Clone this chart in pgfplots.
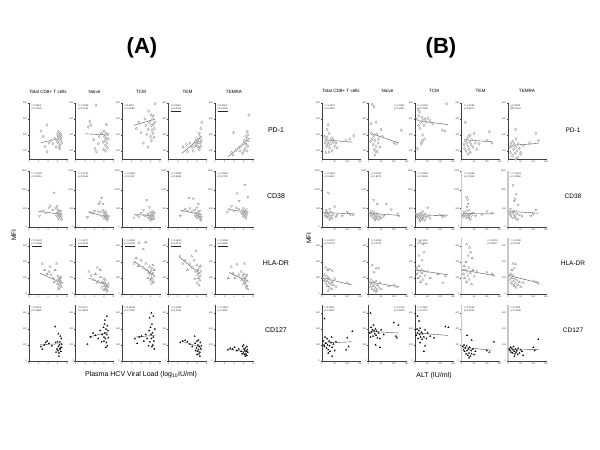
\documentclass[border=0pt]{standalone}
\usepackage{fontspec}
\setmainfont{Liberation Sans}
\usepackage{pgfplots}
\pgfplotsset{compat=1.18}
\pgfplotsset{
  sub/.style={scale only axis, width=38pt, height=56pt,
    axis lines=left, axis line style={-, line width=0.35pt, draw=black!75},
    tick style={line width=0.3pt, draw=black!75}, major tick length=1.2pt, tick align=outside,
    ticklabel style={font=\fontsize{2.3}{2.6}\selectfont, inner sep=0.6pt, text=black!80},
    /pgf/number format/assume math mode=true, /pgf/number format/1000 sep={},
    clip=false},
  rowPD/.style={ymin=100,ymax=800,ytick={200,400,600,800}},
  rowCD/.style={ymin=0,ymax=1500,ytick={0,500,1000,1500}},
  rowHL/.style={ymin=0,ymax=700,ytick={0,200,400,600}},
  rowCS/.style={ymin=0,ymax=700,ytick={0,200,400,600}},
  xA/.style={xmin=0,xmax=8,xtick={0,2,4,6,8}},
  xB/.style={xmin=0,xmax=150,xtick={0,50,100,150}},
  gy/.style={y axis line style={line width=1.4pt, draw=black!22}},
  mPD/.style={mark=diamond*, mark size=1.4pt, mark options={fill=white, draw=black!45, line width=0.3pt}},
  mCD/.style={mark=triangle*, mark size=1.3pt, mark options={fill=white, draw=black!45, line width=0.3pt, rotate=180}},
  mHL/.style={mark=triangle*, mark size=1.3pt, mark options={fill=white, draw=black!45, line width=0.3pt}},
  mCS/.style={mark=triangle*, mark size=0.9pt, mark options={fill=black, draw=black, line width=0.2pt}},
  fitline/.style={no marks, draw=black!70, line width=0.4pt},
}
\tikzset{ann/.style={font=\fontsize{2.4}{2.9}\selectfont, align=left, inner sep=0.5pt, text=black!85},
  TL/.style={at={(rel axis cs:0.05,0.98)},anchor=north west},
  TR/.style={at={(rel axis cs:0.97,0.98)},anchor=north east}}
\newcommand{\subp}[8]{%
\begin{axis}[sub,#3,at={(#1pt,#2pt)},anchor=south west]
\addplot[only marks,#4] coordinates {#5};
\addplot[fitline] coordinates {#6};
\node[ann,#7] {#8};
\end{axis}}
\begin{document}
\begin{tikzpicture}[x=1pt,y=1pt]
\useasboundingbox (0,0) rectangle (600,450);
% titles
\node[font=\bfseries\fontsize{22}{24}\selectfont] at (142,402) {(A)};
\node[font=\bfseries\fontsize{22}{24}\selectfont] at (441,402) {(B)};
\foreach \cx/\t in {48/Total CD8+ T cells,94.5/Naive,141/TCM,187.5/TEM,234/TEMRA}{
  \node[font=\fontsize{4.6}{5}\selectfont] at (\cx,358) {\t};}
\foreach \cx/\t in {341/Total CD8+ T cells,387.5/Naive,434/TCM,480.5/TEM,527/TEMRA}{
  \node[font=\fontsize{4.6}{5}\selectfont] at (\cx,359) {\t};}
\foreach \ry/\t in {320/PD-1,254/CD38,187/HLA-DR,120/CD127}{
  \node[font=\fontsize{7}{8}\selectfont] at (276,\ry) {\t};
  \node[font=\fontsize{6.5}{8}\selectfont] at (573,\ry) {\t};}
\node[font=\fontsize{7}{8}\selectfont] at (141,75) {Plasma HCV Viral Load (log\textsubscript{10}IU/ml)};
\node[font=\fontsize{7}{8}\selectfont] at (434,74) {ALT (IU/ml)};
\node[font=\fontsize{6.5}{8}\selectfont, rotate=90] at (14,215) {MFI};
\node[font=\fontsize{6.5}{8}\selectfont, rotate=90] at (309,212) {MFI};
% ===== Panel A, row 1 PD-1
\subp{29}{291}{xA,rowPD}{mPD}{(2.5,450) (3.75,525) (3.0,380) (3.4,255) (3.8,190) (4.6,330) (5.0,290) (5.4,360) (5.7,250) (5.9,330) (6.0,410) (6.1,370) (6.2,300) (6.3,390) (6.4,350) (6.5,270) (6.6,420) (6.7,330) (6.8,380) (6.9,300) (6.3,240) (6.5,230) (6.0,310) (6.2,440) (6.7,400) (4.2,300)}{(2.5,305) (6.9,360)}{TL}{r=0.1802\\p=0.2532}
\subp{75.5}{291}{xA,rowPD}{mPD}{(4.3,775) (3.2,525) (3.0,570) (2.7,500) (6.5,530) (3.8,340) (4.1,230) (4.4,190) (5.0,380) (5.5,420) (5.8,310) (6.0,450) (6.1,380) (6.2,330) (6.3,270) (6.4,420) (6.5,360) (6.6,300) (6.7,240) (6.8,410) (5.9,220) (6.3,200) (4.8,290) (6.9,350)}{(2.1,415) (7.0,400)}{TL}{r=-0.0986\\p=0.5796}
\subp{122}{291}{xA,rowPD}{mPD}{(6.9,790) (5.6,700) (6.1,650) (4.0,430) (3.0,480) (3.5,560) (4.8,600) (5.0,520) (5.5,470) (5.8,560) (6.0,380) (6.2,520) (6.3,460) (6.4,600) (6.5,420) (6.6,530) (6.7,370) (6.8,480) (4.5,300) (5.5,250) (6.2,330) (6.6,640) (5.2,410) (6.9,560)}{(2.5,520) (7.0,600)}{TL}{r=0.2567\\p=0.1185}
\subp{168.5}{291}{xA,rowPD}{mPD}{(7.0,560) (6.8,480) (6.5,420) (6.6,380) (6.2,340) (6.0,300) (5.8,280) (5.5,260) (5.0,250) (4.5,300) (3.8,280) (3.0,250) (6.7,300) (6.4,250) (6.1,260) (6.3,310) (6.9,330) (5.9,350) (5.2,200) (6.5,220) (4.0,190) (6.8,260) (6.6,310) (5.7,320)}{(2.8,170) (7.0,380)}{TL}{r=0.6049\\\underline{p<0.0001}}
\subp{215}{291}{xA,rowPD}{mPD}{(7.1,650) (6.8,440) (6.5,380) (6.9,400) (6.2,330) (6.0,290) (5.5,260) (3.9,430) (3.5,180) (4.5,210) (5.0,240) (5.8,170) (6.3,230) (6.6,280) (6.7,200) (6.4,310) (6.9,260) (7.0,330) (5.3,200) (6.1,200) (6.8,350) (3.8,150)}{(2.8,130) (7.3,360)}{TL}{r=0.5022\\\underline{p=0.0010}}
% ===== Panel A, row 2 CD38
\subp{29}{223}{xA,rowCD}{mCD}{(5.3,920) (2.2,290) (2.6,420) (3.0,440) (3.5,380) (4.2,520) (4.5,570) (5.0,460) (5.6,520) (5.9,560) (6.0,380) (6.1,450) (6.2,300) (6.3,400) (6.4,330) (6.5,420) (6.6,260) (6.7,350) (6.8,280) (6.9,200) (6.2,220) (6.5,360) (5.8,300) (6.0,470) (6.7,430)}{(2.0,420) (6.9,340)}{TL}{r=-0.2502\\p=0.0814}
\subp{75.5}{223}{xA,rowCD}{mCD}{(5.5,780) (5.2,680) (5.8,620) (4.9,620) (2.5,260) (3.0,400) (3.5,380) (4.0,430) (4.8,420) (5.3,400) (5.8,450) (6.0,380) (6.1,300) (6.2,340) (6.3,260) (6.4,390) (6.5,220) (6.6,300) (6.7,180) (6.8,250) (6.0,230) (6.3,420) (6.5,330) (5.5,300) (6.9,280)}{(2.7,400) (6.7,265)}{TL}{r=-0.2757\\p=0.0616}
\subp{122}{223}{xA,rowCD}{mCD}{(5.2,720) (5.8,530) (4.5,450) (2.5,250) (3.0,330) (3.5,280) (4.0,380) (4.7,320) (5.0,300) (5.5,360) (5.8,280) (6.0,400) (6.1,250) (6.2,350) (6.3,200) (6.4,320) (6.5,420) (6.6,280) (6.7,220) (6.8,380) (6.0,180) (6.3,300) (6.6,340) (5.6,240)}{(2.6,340) (6.8,290)}{TL}{r=-0.2486\\p=0.1122}
\subp{168.5}{223}{xA,rowCD}{mCD}{(4.3,780) (5.2,760) (6.3,620) (2.5,300) (3.0,430) (3.5,480) (4.0,440) (4.5,500) (5.0,420) (5.5,460) (5.8,380) (6.0,520) (6.1,340) (6.2,300) (6.3,400) (6.4,270) (6.5,360) (6.6,230) (6.7,320) (6.8,180) (6.0,250) (6.5,430) (5.7,300) (6.9,260)}{(2.5,450) (7.0,330)}{TL}{r=-0.2829\\p=0.0698}
\subp{215}{223}{xA,rowCD}{mCD}{(6.3,1130) (4.7,900) (5.1,700) (6.9,800) (2.6,400) (3.0,470) (3.5,560) (4.0,430) (4.5,520) (5.0,480) (5.5,410) (5.8,450) (6.0,500) (6.1,380) (6.2,330) (6.3,430) (6.4,280) (6.5,360) (6.6,470) (6.7,310) (6.8,400) (6.0,280) (6.5,230) (5.7,350)}{(2.6,480) (6.9,390)}{TL}{r=-0.2900\\p=0.0722}
% ===== Panel A, row 3 HLA-DR
\subp{29}{156}{xA,rowHL}{mHL}{(2.8,380) (3.3,300) (3.8,250) (4.2,280) (4.6,240) (5.0,200) (5.5,300) (5.8,380) (6.1,220) (6.2,160) (6.3,190) (6.4,130) (6.5,170) (6.6,110) (6.7,150) (6.8,90) (6.9,140) (6.0,120) (6.2,80) (6.5,200) (5.3,150) (4.4,340) (6.7,210) (6.3,60) (5.9,170)}{(2.3,260) (6.8,140)}{TL}{r=-0.3402\\\underline{p=0.0298}}
\subp{75.5}{156}{xA,rowHL}{mHL}{(4.6,330) (5.2,300) (2.8,280) (3.3,230) (3.8,180) (4.2,250) (4.8,160) (5.3,210) (5.7,150) (6.0,190) (6.1,100) (6.2,140) (6.3,70) (6.4,120) (6.5,60) (6.6,100) (6.7,40) (6.8,90) (6.9,130) (6.0,50) (6.3,170) (5.5,80) (6.6,30) (4.5,140)}{(2.8,200) (7.0,100)}{TL}{r=-0.3177\\\underline{p=0.0434}}
\subp{122}{156}{xA,rowHL}{mHL}{(3.6,640) (5.0,650) (4.5,560) (2.5,380) (3.0,450) (3.4,350) (4.0,420) (4.5,330) (5.0,380) (5.3,300) (5.6,260) (5.8,340) (6.0,240) (6.1,290) (6.2,200) (6.3,320) (6.4,180) (6.5,260) (6.6,150) (6.7,220) (6.8,300) (6.2,130) (6.5,360) (5.5,200) (6.0,170)}{(2.5,410) (6.8,230)}{TL}{r=-0.4561\\\underline{p=0.0028}}
\subp{168.5}{156}{xA,rowHL}{mHL}{(5.8,540) (4.9,470) (2.4,470) (3.0,380) (3.5,420) (4.0,300) (4.5,380) (5.0,330) (5.4,420) (5.7,280) (6.0,360) (6.1,240) (6.2,300) (6.3,200) (6.4,260) (6.5,330) (6.6,170) (6.7,220) (6.8,280) (6.0,140) (6.4,110) (5.6,190) (6.7,350)}{(2.3,460) (6.7,250)}{TL}{r=-0.3810\\\underline{p=0.0170}}
\subp{215}{156}{xA,rowHL}{mHL}{(3.4,340) (4.6,370) (6.2,380) (2.8,200) (3.8,260) (4.2,200) (5.0,240) (5.5,280) (5.8,220) (6.0,180) (6.1,250) (6.2,150) (6.3,200) (6.4,120) (6.5,170) (6.6,220) (6.7,100) (6.8,160) (6.9,60) (6.5,80) (6.0,130) (5.6,170) (6.7,240)}{(3.0,270) (7.0,150)}{TL}{r=-0.3288\\\underline{p=0.0385}}
% ===== Panel A, row 4 CD127
\subp{29}{89}{xA,rowCS}{mCS}{(5.5,430) (6.2,340) (6.6,310) (6.8,280) (2.5,180) (2.8,150) (3.2,200) (3.5,230) (3.8,250) (4.2,220) (4.8,190) (5.6,230) (5.9,150) (6.0,240) (6.1,130) (6.2,180) (6.3,100) (6.4,200) (6.5,150) (6.6,160) (6.7,120) (6.8,170) (6.9,210) (6.3,60) (6.5,240) (5.7,110)}{(2.4,205) (6.9,215)}{TL}{r=0.0214\\p=0.8880}
\subp{75.5}{89}{xA,rowCS}{mCS}{(6.6,560) (6.2,510) (2.5,210) (3.2,300) (3.7,350) (4.2,320) (4.8,280) (5.2,380) (5.6,330) (5.9,420) (6.0,300) (6.1,460) (6.2,350) (6.3,280) (6.4,400) (6.5,230) (6.6,330) (6.7,190) (6.8,380) (6.0,250) (6.4,170) (5.5,240) (6.7,440) (6.9,290)}{(2.8,300) (6.8,360)}{TL}{r=0.1670\\p=0.2902}
\subp{122}{89}{xA,rowCS}{mCS}{(6.2,600) (5.8,540) (6.6,560) (2.7,280) (3.2,220) (3.6,300) (4.1,310) (4.6,250) (5.0,330) (5.3,280) (5.7,380) (5.9,240) (6.0,420) (6.1,330) (6.2,280) (6.3,460) (6.4,350) (6.5,200) (6.6,300) (6.7,250) (6.8,150) (6.3,180) (5.6,190) (6.9,400)}{(2.8,300) (7.0,320)}{TL}{r=0.06116\\p=0.7083}
\subp{168.5}{89}{xA,rowCS}{mCS}{(5.5,310) (2.5,230) (3.0,250) (3.5,260) (4.0,240) (4.5,210) (5.0,180) (5.6,220) (5.9,160) (6.0,250) (6.1,120) (6.2,200) (6.3,140) (6.4,90) (6.5,180) (6.6,110) (6.7,230) (6.8,150) (6.0,80) (6.3,260) (6.6,60) (5.7,130) (6.9,190)}{(2.7,250) (6.8,170)}{TL}{r=-0.2063\\p=0.2036}
\subp{215}{89}{xA,rowCS}{mCS}{(2.7,140) (3.2,160) (3.7,150) (4.1,170) (4.6,130) (5.0,150) (5.5,120) (5.8,180) (6.0,100) (6.1,150) (6.2,80) (6.3,130) (6.4,160) (6.5,90) (6.6,120) (6.7,70) (6.8,140) (6.0,200) (6.4,60) (6.7,180) (5.7,90) (6.9,110)}{(2.8,150) (6.8,110)}{TL}{r=-0.1803\\p=0.2651}
% ===== Panel B, row 1 PD-1
\subp{322}{291}{xB,rowPD}{mPD}{(24,530) (20,470) (110,350) (125,390) (95,330) (10,380) (12,300) (15,340) (18,260) (20,370) (22,310) (25,280) (28,420) (30,240) (32,330) (35,290) (38,360) (40,200) (45,310) (50,260) (55,300) (60,240) (28,190) (42,350) (15,180)}{(10,340) (120,310)}{TL}{r=-0.1407\\p=0.3420}
\subp{368.5}{291}{xB,rowPD}{mPD}{(15,780) (22,750) (10,540) (30,560) (50,470) (130,460) (100,300) (110,290) (8,320) (12,420) (15,350) (18,280) (20,390) (22,220) (25,330) (28,200) (30,260) (32,410) (35,190) (38,300) (40,350) (45,250) (55,380) (25,150)}{(10,420) (120,300)}{TR}{r=-0.1587\\p=0.3482}
\subp{415}{291}{xB,rowPD}{mPD}{(12,720) (18,690) (125,790) (108,460) (118,450) (8,600) (10,230) (14,520) (16,640) (20,480) (22,560) (25,300) (28,620) (30,400) (32,580) (35,520) (38,350) (40,600) (45,560) (50,610) (60,580) (70,540) (25,290) (30,330)}{(10,580) (130,530)}{TL}{r=-0.0442\\p=0.7686}
\subp{461.5}{291}{xB,rowPD}{mPD}{(15,560) (50,420) (110,440) (100,330) (120,300) (10,280) (12,230) (15,330) (18,200) (20,300) (22,350) (25,260) (28,380) (30,220) (32,310) (35,180) (38,280) (40,340) (45,250) (55,300) (60,220) (70,290) (25,160) (35,400)}{(10,340) (120,315)}{TL}{r=-0.0580\\p=0.6437}
\subp{508}{291}{xB,rowPD}{mPD}{(15,740) (30,470) (110,420) (85,300) (120,330) (8,250) (10,180) (12,300) (15,260) (18,140) (20,320) (22,220) (25,280) (28,170) (30,250) (32,350) (35,200) (38,120) (40,290) (45,230) (50,180) (60,270) (30,100) (50,160)}{(10,270) (120,295)}{TL}{r=0.0535\\p=0.7814}
% ===== Panel B, row 2 CD38
\subp{322}{223}{xB,rowCD}{mCD}{(25,920) (100,410) (112,330) (122,320) (80,300) (10,380) (12,300) (15,450) (18,350) (20,420) (22,280) (25,370) (28,330) (30,480) (32,250) (35,400) (38,300) (40,230) (45,360) (50,550) (55,280) (60,320) (30,200) (20,260)}{(5,390) (130,350)}{TL}{r=-0.0842\\p=0.6912}
\subp{368.5}{223}{xB,rowCD}{mCD}{(20,720) (35,620) (70,620) (90,470) (115,360) (120,300) (5,380) (10,300) (12,420) (15,350) (18,250) (20,400) (22,330) (25,280) (28,370) (30,220) (32,320) (35,260) (38,350) (40,200) (45,290) (50,240) (25,180) (60,300)}{(5,370) (120,310)}{TL}{r=-0.1402\\p=0.3879}
\subp{415}{223}{xB,rowCD}{mCD}{(50,520) (100,330) (120,310) (110,270) (5,350) (8,280) (10,320) (12,250) (15,360) (18,220) (20,300) (22,270) (25,380) (28,200) (30,330) (32,240) (35,290) (38,180) (40,350) (45,260) (55,300) (60,230) (20,160) (30,420)}{(5,330) (130,300)}{TL}{r=-0.0863\\p=0.5626}
\subp{461.5}{223}{xB,rowCD,gy}{mCD}{(20,800) (24,740) (26,620) (22,540) (100,420) (120,380) (80,330) (5,330) (8,280) (10,400) (12,320) (15,360) (18,250) (20,420) (22,300) (25,350) (28,280) (30,450) (32,330) (35,200) (40,310) (45,380) (55,300) (30,240)}{(5,360) (130,350)}{TL}{r=-0.0438\\p=0.7565}
\subp{508}{223}{xB,rowCD,gy}{mCD}{(20,1120) (32,880) (28,760) (25,700) (40,600) (110,460) (90,300) (100,350) (5,420) (8,350) (10,480) (12,300) (15,400) (18,250) (20,380) (22,440) (25,320) (28,280) (30,420) (35,360) (38,200) (45,330) (55,290) (30,230)}{(5,420) (120,370)}{TL}{r=-0.1024\\p=0.4948}
% ===== Panel B, row 3 HLA-DR
\subp{322}{156}{xB,rowHL}{mHL}{(15,330) (22,300) (30,310) (40,290) (100,140) (110,120) (5,200) (8,160) (10,240) (12,180) (15,130) (18,220) (20,160) (22,100) (25,200) (28,140) (30,80) (32,180) (35,120) (38,60) (40,150) (45,110) (50,190) (55,90) (25,40)}{(5,200) (120,110)}{TL}{r=-0.2572\\p=0.1075}
\subp{368.5}{156}{xB,rowHL}{mHL}{(15,360) (30,320) (40,320) (22,270) (100,110) (112,90) (80,100) (5,140) (8,90) (10,180) (12,120) (15,60) (18,150) (20,100) (22,40) (25,130) (28,70) (30,160) (32,50) (35,110) (40,80) (45,140) (50,60) (30,20)}{(5,150) (120,90)}{TL}{r=-0.3009\\p=0.0709}
\subp{415}{156}{xB,rowHL}{mHL}{(20,660) (32,620) (36,520) (15,480) (28,420) (110,140) (120,220) (90,250) (5,320) (8,250) (10,300) (12,200) (15,350) (18,280) (20,220) (22,150) (25,300) (28,260) (30,180) (35,290) (40,230) (45,120) (50,280) (60,200)}{(5,300) (130,240)}{TL}{r=-0.1311\\p=0.4084}
\subp{461.5}{156}{xB,rowHL,gy}{mHL}{(20,620) (32,580) (36,520) (26,480) (42,450) (100,270) (120,250) (128,230) (5,300) (8,250) (10,350) (12,200) (15,300) (18,400) (20,150) (22,280) (25,230) (28,330) (30,180) (35,260) (40,120) (45,300) (50,220) (60,280)}{(5,300) (130,230)}{TR}{r=-0.1479\\p=0.3827}
\subp{508}{156}{xB,rowHL,gy}{mHL}{(20,380) (30,370) (25,320) (15,300) (100,160) (110,150) (120,130) (5,220) (8,180) (10,250) (12,140) (15,200) (18,120) (20,230) (22,160) (25,100) (28,190) (30,130) (32,80) (35,170) (40,110) (45,150) (50,90) (60,140)}{(5,230) (120,140)}{TL}{r=-0.3760\\p=0.0711}
% ===== Panel B, row 4 CD127
\subp{322}{89}{xB,rowCS}{mCS}{(10,530) (120,370) (100,290) (105,180) (95,140) (5,250) (8,200) (10,180) (12,300) (15,220) (18,160) (20,280) (22,200) (25,140) (28,250) (30,190) (32,120) (35,230) (38,300) (40,170) (45,210) (50,130) (55,240) (40,60) (25,100)}{(5,225) (120,240)}{TL}{r=0.1680\\p=0.3867}
\subp{368.5}{89}{xB,rowCS}{mCS}{(8,600) (100,480) (118,450) (108,310) (112,290) (28,200) (45,170) (5,350) (8,300) (10,420) (12,360) (15,390) (18,310) (20,450) (22,380) (25,340) (28,400) (30,320) (32,370) (35,290) (40,350) (45,280) (50,390) (60,330)}{(5,370) (120,350)}{TR}{r=-0.1700\\p=0.3146}
\subp{415}{89}{xB,rowCS}{mCS}{(10,560) (16,500) (120,430) (132,420) (40,190) (35,120) (20,230) (5,320) (8,400) (10,350) (12,280) (15,380) (18,330) (20,410) (22,300) (25,360) (28,270) (30,340) (35,300) (40,390) (45,280) (50,350) (60,310) (75,290)}{(5,350) (130,320)}{TL}{r=-0.1587\\p=0.2737}
\subp{461.5}{89}{xB,rowCS,gy}{mCS}{(22,320) (40,260) (128,240) (100,130) (110,110) (5,180) (8,140) (10,200) (12,120) (15,160) (18,90) (20,190) (22,130) (25,70) (28,150) (30,100) (32,170) (35,60) (38,130) (40,90) (45,150) (50,80) (55,120) (30,40)}{(5,170) (120,135)}{TL}{r=-0.2345\\p=0.1624}
\subp{508}{89}{xB,rowCS,gy}{mCS}{(120,270) (100,170) (105,130) (5,150) (8,130) (10,170) (12,110) (15,160) (18,100) (20,140) (22,180) (25,120) (28,90) (30,150) (32,110) (35,130) (38,80) (40,160) (45,100) (50,140) (55,120) (60,70) (25,60)}{(5,140) (120,142)}{TL}{r=0.1368\\p=0.4198}
\end{tikzpicture}
\end{document}
